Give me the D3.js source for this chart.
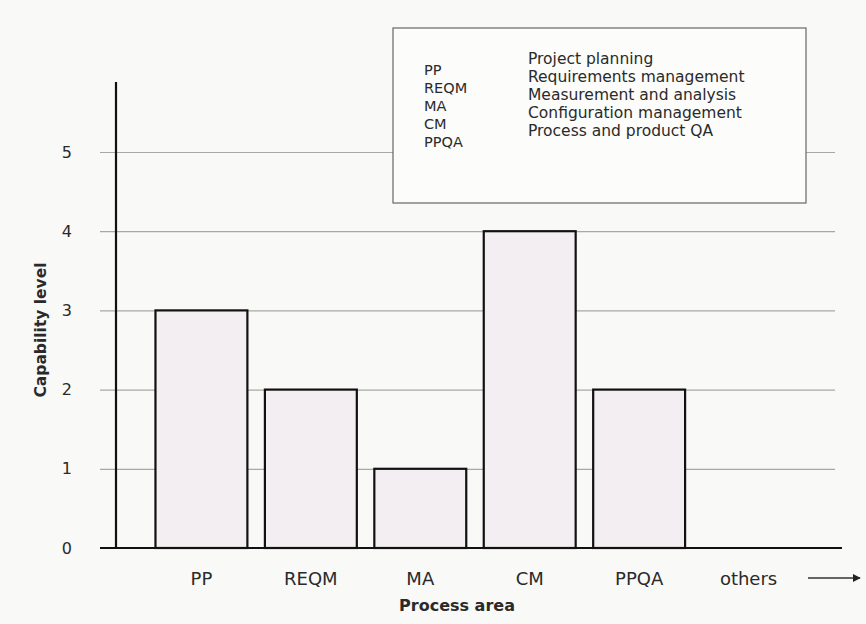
<!DOCTYPE html>
<html><head><meta charset="utf-8">
<script src="https://cdn.jsdelivr.net/npm/d3@7"></script>
<style>
html,body{margin:0;padding:0;background:#f9f9f7;}
svg{display:block;}
text{font-family:"DejaVu Sans",sans-serif;fill:#2a2a2a;}
</style></head>
<body>
<svg id="c" width="866" height="624"></svg>
<script>
const categories = ["PP","REQM","MA","CM","PPQA","others"];
const capability = [3, 2, 1, 4, 2, null];
const yTicks = [0,1,2,3,4,5];
const legendAbbr = ["PP","REQM","MA","CM","PPQA"];
const legendDesc = ["Project planning","Requirements management","Measurement and analysis","Configuration management","Process and product QA"];

const svg = d3.select("#c");
const x = d3.scaleBand().domain(categories).range([150, 800]).paddingInner(0.16).paddingOuter(0.05);
const y = d3.scaleLinear().domain([0,5]).range([548,152]);

// gridlines + tick labels
const yAxis = d3.axisLeft(y).tickValues(yTicks).tickSize(-735).tickPadding(28).tickFormat(d3.format("d"));
const ga = svg.append("g").attr("transform","translate(100,0)").call(yAxis);
ga.select(".domain").remove();
ga.selectAll(".tick line").attr("stroke","#a8a8a8").attr("stroke-width",1.2);
ga.selectAll(".tick text").attr("font-size",16).attr("fill","#555").attr("x",-28)
  .attr("font-family","DejaVu Sans");

// legend box (covers gridline)
const lg = svg.append("g");
lg.append("rect").attr("x",393).attr("y",28).attr("width",413).attr("height",175)
  .attr("fill","#fcfcfb").attr("stroke","#666").attr("stroke-width",1.2);
legendAbbr.forEach((a,i)=>{
  lg.append("text").attr("x",424).attr("y",75+i*18).attr("font-size",14.5).attr("fill","#4a4a4a").text(a);
  lg.append("text").attr("x",528).attr("y",64+i*18).attr("font-size",15.5).attr("fill","#4a4a4a").text(legendDesc[i]);
});

// bars
svg.append("g").selectAll("rect").data(categories.map((c,i)=>({c,v:capability[i]})).filter(d=>d.v!=null))
  .join("rect")
  .attr("x",d=>x(d.c)).attr("width",x.bandwidth())
  .attr("y",d=>y(d.v)).attr("height",d=>y(0)-y(d.v))
  .attr("fill","#f3eef1").attr("stroke","#111").attr("stroke-width",2.2);

// y axis line
svg.append("line").attr("x1",116).attr("x2",116).attr("y1",82).attr("y2",y(0))
  .attr("stroke","#111").attr("stroke-width",2.2);
// baseline
svg.append("line").attr("x1",100).attr("x2",842).attr("y1",y(0)).attr("y2",y(0))
  .attr("stroke","#111").attr("stroke-width",2.2);

// category labels
svg.append("g").selectAll("text").data(categories).join("text")
  .attr("x",d=>x(d)+x.bandwidth()/2).attr("y",585).attr("text-anchor","middle")
  .attr("font-size",18).attr("fill","#333").text(d=>d);

// arrow after "others"
svg.append("defs").append("marker").attr("id","ah").attr("viewBox","0 0 10 10")
  .attr("refX",9).attr("refY",5).attr("markerWidth",6).attr("markerHeight",6).attr("orient","auto")
  .append("path").attr("d","M0,0L10,5L0,10Z").attr("fill","#222");
svg.append("line").attr("x1",808).attr("x2",860).attr("y1",578).attr("y2",578)
  .attr("stroke","#333").attr("stroke-width",1.3).attr("marker-end","url(#ah)");

// axis titles
svg.append("text").attr("x",457).attr("y",611).attr("text-anchor","middle")
  .attr("font-size",16).attr("font-weight","bold").attr("fill","#111").text("Process area");
svg.append("text").attr("transform","translate(46,330) rotate(-90)").attr("text-anchor","middle")
  .attr("font-size",15.5).attr("font-weight","bold").attr("fill","#111").text("Capability level");
</script>
</body></html>
